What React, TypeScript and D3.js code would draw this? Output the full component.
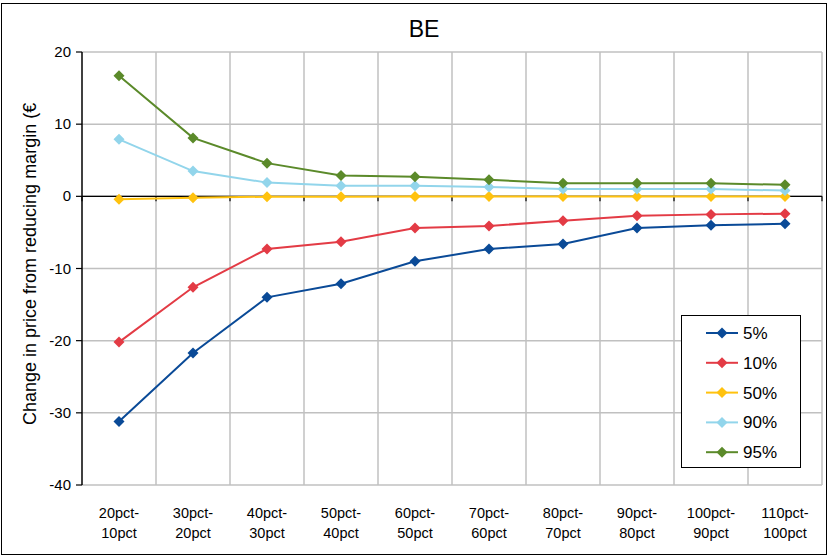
import React from "react";
import * as d3 from "d3";

const categories = ["20pct-|10pct","30pct-|20pct","40pct-|30pct","50pct-|40pct","60pct-|50pct","70pct-|60pct","80pct-|70pct","90pct-|80pct","100pct-|90pct","110pct-|100pct"];
const s5 = [-31.2,-21.7,-14.0,-12.1,-9.0,-7.3,-6.6,-4.4,-4.0,-3.8];
const s10 = [-20.2,-12.6,-7.3,-6.3,-4.4,-4.1,-3.4,-2.7,-2.5,-2.4];
const s50 = [-0.4,-0.2,-0.05,-0.05,-0.03,-0.03,-0.02,-0.02,-0.02,-0.02];
const s90 = [7.9,3.5,1.9,1.45,1.45,1.3,1.0,1.0,1.0,0.8];
const s95 = [16.7,8.1,4.6,2.9,2.7,2.3,1.8,1.8,1.8,1.6];
const seriesNames = ["5%","10%","50%","90%","95%"];
const seriesColors = ["#0a4a97","#e33b45","#ffc20e","#92d5eb","#5b8a2a"];
const yTicks = [20,10,0,-10,-20,-30,-40];

export default function App() {
  const W = 830, H = 557;
  const left = 82, right = 822, top = 52, bottom = 485;
  const x = d3.scaleBand<string>().domain(categories).range([left, right]);
  const y = d3.scaleLinear().domain([-40, 20]).range([bottom, top]);
  const all = [s5, s10, s50, s90, s95];
  const line = d3.line<number>().x((_, i) => (x(categories[i]) as number) + x.bandwidth() / 2).y(d => y(d));
  const diamond = (cx: number, cy: number, r: number) => `M${cx},${cy - r}L${cx + r},${cy}L${cx},${cy + r}L${cx - r},${cy}Z`;
  const font = "'Liberation Sans', Arial, sans-serif";
  const boundaries = categories.map((c) => x(c) as number).concat([right]);
  return (
    <svg width={W} height={H} style={{ position: "absolute", left: 0, top: 0 }} fontFamily={font}>
      <rect x={0} y={0} width={W} height={H} fill="#fff" />
      <rect x={1.5} y={3.5} width={825} height={551} fill="none" stroke="#000" strokeWidth={1} />
      <text x={424} y={37} textAnchor="middle" fontSize={23}>BE</text>
      {/* grid */}
      {yTicks.map(t => (
        <line key={"gy" + t} x1={left} x2={right} y1={y(t)} y2={y(t)} stroke="#c0c0c0" strokeWidth={1.5} />
      ))}
      {boundaries.slice(1).map((bx, i) => (
        <line key={"gx" + i} x1={bx} x2={bx} y1={top} y2={bottom} stroke="#c0c0c0" strokeWidth={1.5} />
      ))}
      {/* y axis */}
      <line x1={left} x2={left} y1={top} y2={bottom} stroke="#000" strokeWidth={1.5} />
      {yTicks.map(t => (
        <g key={"yt" + t}>
          <line x1={left - 6} x2={left} y1={y(t)} y2={y(t)} stroke="#000" strokeWidth={1.2} />
          <text x={left - 11} y={y(t) + 5} textAnchor="end" fontSize={15}>{t}</text>
        </g>
      ))}
      {/* zero axis */}
      <line x1={left} x2={right} y1={y(0)} y2={y(0)} stroke="#000" strokeWidth={1.2} />
      {boundaries.map((bx, i) => (
        <line key={"xt" + i} x1={bx} x2={bx} y1={y(0)} y2={y(0) + 5} stroke="#000" strokeWidth={1.2} />
      ))}
      {/* x labels */}
      {categories.map(c => {
        const [a, b] = c.split("|");
        const cx = (x(c) as number) + x.bandwidth() / 2;
        return (
          <text key={c} x={cx} textAnchor="middle" fontSize={14.5}>
            <tspan x={cx} y={518}>{a}</tspan>
            <tspan x={cx} y={538}>{b}</tspan>
          </text>
        );
      })}
      {/* y label */}
      <defs>
        <clipPath id="ylab"><rect x={0} y={103} width={80} height={400} /></clipPath>
      </defs>
      <g clipPath="url(#ylab)">
        <text transform="translate(36,425) rotate(-90)" textAnchor="start" fontSize={18}>Change in price from reducing margin (€)</text>
      </g>
      {/* series */}
      {all.map((s, k) => (
        <g key={"s" + k}>
          <path d={line(s) as string} fill="none" stroke={seriesColors[k]} strokeWidth={2} />
          {s.map((v, i) => (
            <path key={i} d={diamond((x(categories[i]) as number) + x.bandwidth() / 2, y(v), 5.5)} fill={seriesColors[k]} />
          ))}
        </g>
      ))}
      {/* legend */}
      <rect x={681.5} y={315.5} width={119} height={152} fill="#fff" stroke="#000" strokeWidth={1} />
      {seriesNames.map((n, k) => {
        const ly = 333 + k * 29.8;
        return (
          <g key={n}>
            <line x1={706} x2={738} y1={ly} y2={ly} stroke={seriesColors[k]} strokeWidth={2} />
            <path d={diamond(722, ly, 5.5)} fill={seriesColors[k]} />
            <text x={743} y={ly + 6} fontSize={17}>{n}</text>
          </g>
        );
      })}
    </svg>
  );
}
